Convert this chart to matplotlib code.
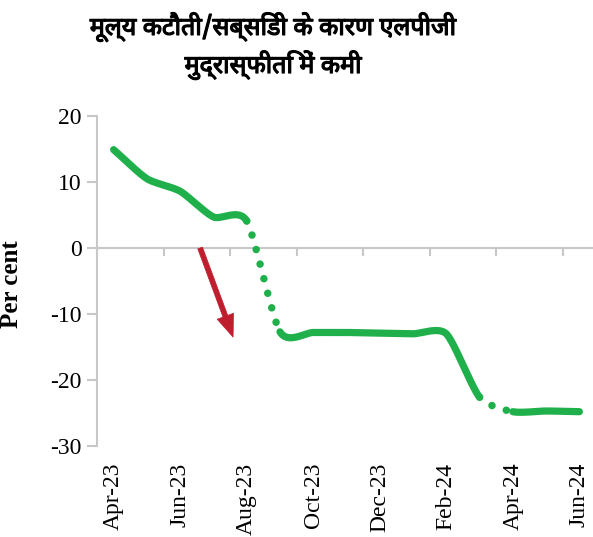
import numpy as np
import matplotlib
matplotlib.use('Agg')
import matplotlib.pyplot as plt
import matplotlib.patheffects as pe

plt.rcParams['axes.unicode_minus'] = False

# ---- data ----
months = ['Apr-23', 'May-23', 'Jun-23', 'Jul-23', 'Aug-23', 'Sep-23', 'Oct-23', 'Nov-23',
          'Dec-23', 'Jan-24', 'Feb-24', 'Mar-24', 'Apr-24', 'May-24', 'Jun-24']
values = [14.9, 10.5, 8.6, 4.7, 4.1, -12.7, -12.8, -12.8, -12.9, -13.0, -13.0, -22.6, -24.8, -24.7, -24.8]
dotted_segments = [4, 11]          # segment i -> i+1 drawn dotted
yticks = [-30, -20, -10, 0, 10, 20]
title_lines = ['मूल्य कटौती/सब्सिडी के कारण एलपीजी', 'मुद्रास्फीति में कमी']
ylabel = 'Per cent'
arrow_from = (2.6, 0.0)
arrow_to = (3.59, -13.5)

GREEN = '#20B04B'
RED = '#BE1E2D'
GRAY = '#C8C8C8'
SERIF = ['Liberation Serif', 'DejaVu Serif']
HINDI = ['Noto Sans Devanagari', 'Lohit Devanagari', 'Mangal', 'FreeSans', 'Noto Sans', 'DejaVu Sans']
TENSION = 0.7


def smooth_segments(xs, ys, n=40):
    x = np.asarray(xs, float)
    y = np.asarray(ys, float)
    N = len(x)
    mx = np.empty(N)
    my = np.empty(N)
    for i in range(N):
        if i == 0:
            mx[i], my[i] = x[1] - x[0], y[1] - y[0]
        elif i == N - 1:
            mx[i], my[i] = x[-1] - x[-2], y[-1] - y[-2]
        else:
            mx[i], my[i] = (x[i + 1] - x[i - 1]) / 2, (y[i + 1] - y[i - 1]) / 2
    mx *= TENSION
    my *= TENSION
    t = np.linspace(0, 1, n)
    h00 = 2 * t**3 - 3 * t**2 + 1
    h10 = t**3 - 2 * t**2 + t
    h01 = -2 * t**3 + 3 * t**2
    h11 = t**3 - t**2
    segs = []
    for i in range(N - 1):
        sx = h00 * x[i] + h10 * mx[i] + h01 * x[i + 1] + h11 * mx[i + 1]
        sy = h00 * y[i] + h10 * my[i] + h01 * y[i + 1] + h11 * my[i + 1]
        segs.append((sx, sy))
    return segs


fig = plt.figure(figsize=(5.93, 5.37), dpi=100)
ax = fig.add_axes([97 / 593, 1 - 446 / 537, (596 - 97) / 593, 330 / 537])

xpos = np.arange(len(months))
segs = smooth_segments(xpos, values)

run_x, run_y = [], []
for i, (sx, sy) in enumerate(segs):
    if i in dotted_segments:
        if run_x:
            ax.plot(np.concatenate(run_x), np.concatenate(run_y), color=GREEN, lw=5.2,
                    solid_capstyle='round', solid_joinstyle='round', zorder=3)
            run_x, run_y = [], []
        ax.plot(sx, sy, color=GREEN, lw=5.4, linestyle=(0, (0.01, 2.0)),
                dash_capstyle='round', zorder=3)
    else:
        run_x.append(sx)
        run_y.append(sy)
if run_x:
    ax.plot(np.concatenate(run_x), np.concatenate(run_y), color=GREEN, lw=5.2,
            solid_capstyle='round', solid_joinstyle='round', zorder=3)

ax.annotate('', xy=arrow_to, xytext=arrow_from,
            arrowprops=dict(arrowstyle='simple,head_length=1.6,head_width=1.25,tail_width=0.36',
                            fc=RED, ec=RED, lw=0.5, shrinkA=0, shrinkB=0, mutation_scale=10),
            zorder=4)

ax.set_xlim(-0.5, len(months) - 0.5)
ax.set_ylim(min(yticks), max(yticks))
for s in ['top', 'right']:
    ax.spines[s].set_visible(False)
ax.spines['left'].set_color(GRAY)
ax.spines['left'].set_linewidth(1.5)
ax.spines['bottom'].set_position(('data', 0))
ax.spines['bottom'].set_color(GRAY)
ax.spines['bottom'].set_linewidth(1.5)

ax.set_xticks(np.arange(-0.5, len(months) - 0.5, 2))
ax.tick_params(axis='x', length=6, width=1.5, color=GRAY, labelbottom=False)
ax.set_yticks(yticks)
ax.set_yticklabels([str(v) for v in yticks], fontfamily=SERIF, fontsize=17)
ax.tick_params(axis='y', length=7, width=1.5, color=GRAY, pad=4)

sec = ax.secondary_xaxis('bottom')
sec.set_xticks(xpos[::2])
sec.set_xticklabels([months[i] for i in xpos[::2]], rotation=90, fontfamily=SERIF, fontsize=17)
sec.tick_params(length=0, pad=12)
sec.spines['bottom'].set_visible(False)

ax.set_ylabel(ylabel, fontfamily=SERIF, fontsize=18, fontweight='bold')
ax.yaxis.set_label_coords(-0.148, 0.49)

for line, ypx in zip(title_lines, [27, 65]):
    fig.text(273 / 593, 1 - ypx / 537, line, ha='center', va='center',
             fontsize=18, fontweight='bold', family=HINDI,
             path_effects=[pe.withStroke(linewidth=0.9, foreground='black')])

fig.savefig('out.png', dpi=100)
